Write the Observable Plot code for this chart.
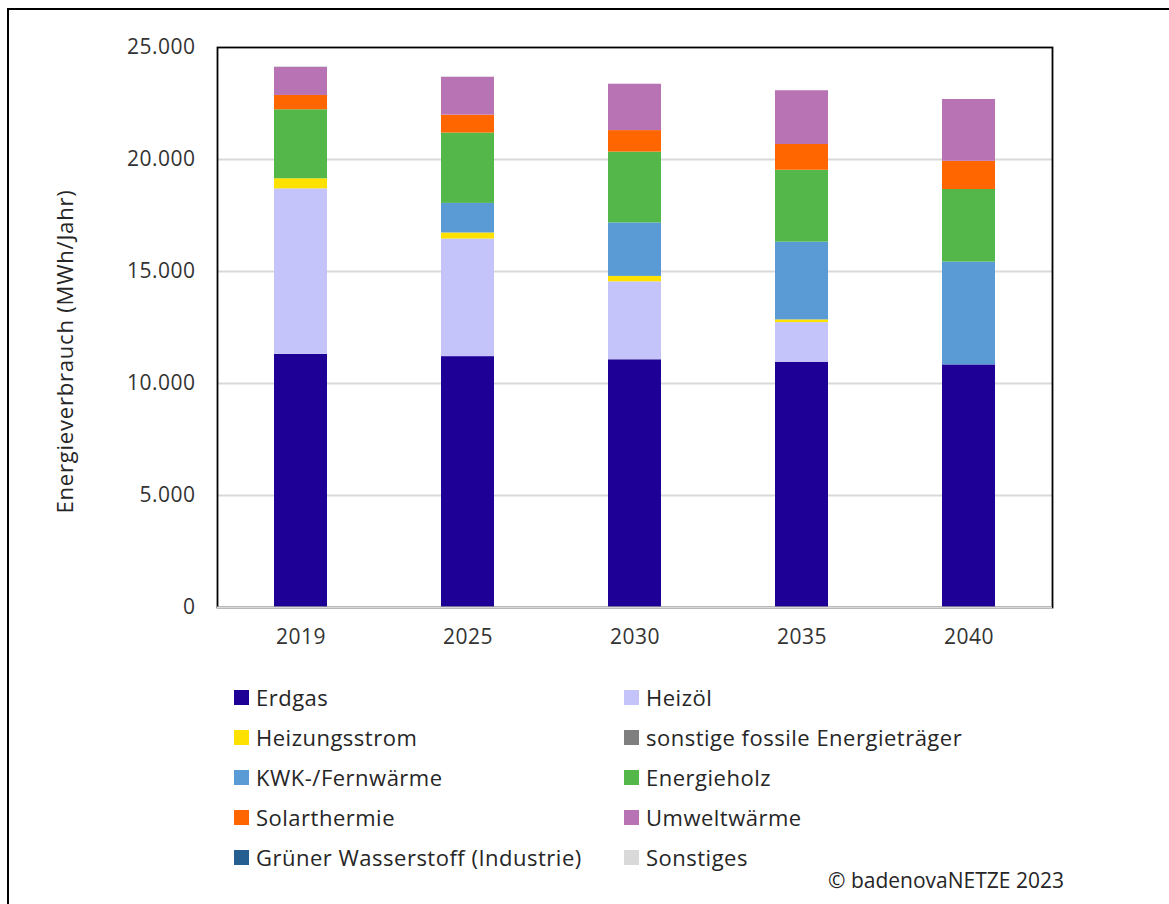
<!DOCTYPE html>
<html lang="de">
<head>
<meta charset="utf-8">
<script src="https://cdn.jsdelivr.net/npm/d3@7"></script>
<script src="https://cdn.jsdelivr.net/npm/@observablehq/plot@0.6"></script>
<style>
  body { margin: 0; background: #fff; font-family: "Open Sans", sans-serif; }
  #wrap { position: relative; width: 1169px; height: 904px; overflow: hidden; background: #fff; }
  #border { position: absolute; left: 7px; top: 8px; width: 1300px; height: 1000px;
            border-left: 2px solid #000; border-top: 2px solid #000; }
  #chart { position: absolute; left: 0; top: 0; }
  #chart svg text { letter-spacing: 0.5px; }
  #chart g[aria-label="text"] text { letter-spacing: 0.8px; }
  .legend-item { position: absolute; display: flex; align-items: center; height: 26px;
                 font-size: 22px; letter-spacing: 0.5px; color: #262626; white-space: nowrap; }
  .legend-item .sw { width: 15px; height: 15px; margin-right: 7px; flex: none; }
  #credit { position: absolute; left: 828px; top: 866px; font-size: 21px; color: #262626; white-space: nowrap; }
</style>
</head>
<body>
<div id="wrap">
  <div id="border"></div>
  <div id="chart"></div>
  <div id="legend"></div>
  <div id="credit"></div>
</div>
<script>
// Stichjahre
const years = ["2019", "2025", "2030", "2035", "2040"];

// Energieverbrauch je Energieträger in MWh/Jahr
const erdgas            = [11300, 11200, 11060, 10950, 10830];
const heizoel           = [7390, 5250, 3480, 1770, 0];
const heizungsstrom     = [450, 270, 240, 120, 0];
const sonstigeFossile   = [0, 0, 0, 0, 0];
const kwkFernwaerme     = [0, 1320, 2390, 3470, 4590];
const energieholz       = [3080, 3140, 3160, 3210, 3240];
const solarthermie      = [640, 800, 960, 1150, 1260];
const umweltwaerme      = [1250, 1690, 2070, 2400, 2760];
const gruenerWasserstoff = [0, 0, 0, 0, 0];
const sonstiges         = [40, 30, 0, 0, 0];

// Reihenfolge von unten nach oben (zugleich Legendenreihenfolge)
const seriesNames = [
  "Erdgas", "Heizöl", "Heizungsstrom", "sonstige fossile Energieträger",
  "KWK-/Fernwärme", "Energieholz", "Solarthermie", "Umweltwärme",
  "Grüner Wasserstoff (Industrie)", "Sonstiges"
];
const seriesValues = [
  erdgas, heizoel, heizungsstrom, sonstigeFossile, kwkFernwaerme,
  energieholz, solarthermie, umweltwaerme, gruenerWasserstoff, sonstiges
];
const seriesColors = [
  "#1e0096", "#c4c4fb", "#ffe100", "#7f7f7f", "#5b9bd5",
  "#53b74a", "#ff6600", "#b873b4", "#255e91", "#d9d9d9"
];

const yTicks = [0, 5000, 10000, 15000, 20000, 25000];
const axisTitle = "Energieverbrauch (MWh/Jahr)";
const creditText = "© badenovaNETZE 2023";

// Langes Format für die Balken
const rows = years.flatMap((year, i) =>
  seriesNames.map((name, k) => ({ year, series: name, value: seriesValues[k][i] }))
);

// Deutsche Zahlendarstellung: 25.000
const de = d3.formatLocale({ decimal: ",", thousands: ".", grouping: [3], currency: ["", " €"] });
const fmt = de.format(",");

const chart = Plot.plot({
  width: 1169,
  height: 660,
  marginLeft: 217,
  marginRight: 117,
  marginTop: 47,
  marginBottom: 53,
  style: { fontFamily: '"Open Sans", sans-serif', fontSize: "21px", color: "#333", background: "transparent" },
  x: { domain: years, paddingInner: 0.682, paddingOuter: 0.341, label: null,
       tickSize: 0, tickPadding: 22 },
  y: { domain: [0, 25000], ticks: yTicks, tickFormat: fmt, label: null,
       tickSize: 0, tickPadding: 22 },
  color: { domain: seriesNames, range: seriesColors },
  marks: [
    Plot.ruleY(yTicks.filter(t => t > 0 && t < 25000), { stroke: "#d9d9d9", strokeWidth: 2 }),
    Plot.barY(rows, { x: "year", y: "value", fill: "series", order: seriesNames }),
    Plot.frame({ stroke: "#000", strokeWidth: 1.8 }),
    Plot.ruleY([0], { stroke: "#d9d9d9", strokeWidth: 2 }),
    Plot.text([axisTitle], {
      text: d => d, frameAnchor: "left", textAnchor: "middle", dx: -152, dy: 24, rotate: -90,
      fontSize: 22, fill: "#262626"
    })
  ]
});
document.getElementById("chart").appendChild(chart);

// Legende in zwei Spalten
const legend = document.getElementById("legend");
const colLeft = [234, 624];
seriesNames.forEach((name, i) => {
  const row = Math.floor(i / 2), col = i % 2;
  const item = document.createElement("div");
  item.className = "legend-item";
  item.style.left = colLeft[col] + "px";
  item.style.top = (697 + 40 * row - 13) + "px";
  const sw = document.createElement("span");
  sw.className = "sw";
  sw.style.background = seriesColors[i];
  const label = document.createElement("span");
  label.textContent = name;
  item.append(sw, label);
  legend.appendChild(item);
});

document.getElementById("credit").textContent = creditText;
</script>
</body>
</html>
